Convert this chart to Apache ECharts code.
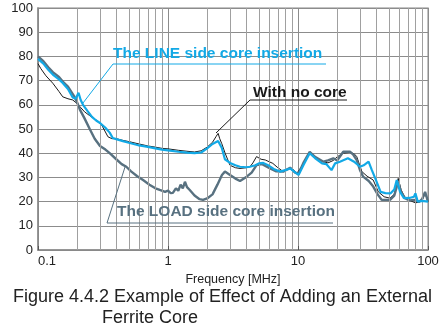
<!DOCTYPE html>
<html><head><meta charset="utf-8">
<script src="https://cdn.jsdelivr.net/npm/echarts@6/dist/echarts.min.js"></script>
<style>html,body{margin:0;padding:0;background:#fff;}#c{width:439px;height:329px;}</style>
</head><body><div id="c"></div>
<script>
var xTicks = [0.1, 1, 10, 100];
var minorX = [0.2,0.3,0.4,0.5,0.6,0.7,0.8,0.9,2,3,4,5,6,7,8,9,20,30,40,50,60,70,80,90];
var yTicks = [0,10,20,30,40,50,60,70,80,90,100];

var lineSide = [[0.1,79],[0.11,77],[0.12,74.5],[0.13,72.5],[0.145,70.5],[0.155,69],[0.17,66.5],[0.185,63],[0.195,62.5],[0.205,65],[0.213,62],[0.222,60],[0.24,57.5],[0.26,55],[0.28,53.5],[0.3,52.5],[0.33,50.5],[0.356,48.5],[0.376,46.3],[0.4,45.8],[0.45,45],[0.5,44.3],[0.6,43.2],[0.7,42.6],[0.8,42],[0.9,41.5],[1.0,41.2],[1.2,40.6],[1.4,40.2],[1.6,40],[1.8,40.3],[2.0,42],[2.2,43.8],[2.43,45],[2.6,42],[2.74,37.5],[3.0,36],[3.3,35],[3.58,34.4],[4.0,34.2],[4.27,34.4],[4.7,35],[5.0,35.8],[5.4,36],[6.0,34.8],[6.5,33.5],[7.25,32.4],[8.0,33],[8.7,33.7],[9.3,32.5],[10.1,31],[11,35],[12.3,40],[13.5,38],[15.3,35.8],[16.5,35.5],[18.1,33],[19.3,35.8],[21,36.5],[24.2,37.9],[27,36.5],[30,34.4],[32,35],[34.9,36.5],[37,33],[39.3,29.6],[43.2,24],[47,23.5],[51.6,23.4],[55,25],[57.5,28.9],[61,24],[65.3,21.4],[72,21.5],[78,22],[80,23.4],[83.4,20],[90,20.3],[100,20]];

var loadSide = [[0.1,80],[0.11,78],[0.12,75.5],[0.13,73.5],[0.145,71.5],[0.155,69.6],[0.17,67.5],[0.19,63.5],[0.2,61],[0.21,58],[0.228,54.4],[0.25,50],[0.273,46],[0.3,43],[0.33,41.5],[0.356,40],[0.4,37.5],[0.44,35.5],[0.478,34.4],[0.52,32.5],[0.58,30.5],[0.643,28.9],[0.72,27],[0.8,25.5],[0.864,24.8],[0.95,24],[1.0,24.5],[1.05,23.5],[1.09,23.6],[1.15,25.5],[1.2,24.5],[1.25,27],[1.3,25.5],[1.35,28.2],[1.4,26],[1.47,24.8],[1.6,22.5],[1.75,21],[1.86,20.7],[2.0,21.3],[2.2,23],[2.4,27],[2.6,31],[2.74,32.4],[3.0,31],[3.3,29.5],[3.58,28.5],[4.03,30.3],[4.4,32],[4.8,35.1],[5.3,35.5],[6.1,33.7],[6.8,32.5],[7.7,32.4],[8.7,34],[9.5,32],[10.1,31.5],[11,36],[12.3,40.6],[13.5,38.5],[15.7,36.5],[17,37],[18.7,37.9],[20,37],[22.3,40.6],[25.1,40.6],[26.5,39.5],[28.3,37.2],[30,33],[31.7,30.3],[35,28.5],[37.9,26.2],[41,23],[44,20.7],[51,20.7],[55,22.5],[59,28.2],[62,24],[66.5,21.4],[72,20.5],[78,20.7],[86,20],[90,21],[95,24],[100,20]];

var noCore = [[0.1,77],[0.105,75],[0.115,72],[0.13,68.9],[0.145,65.5],[0.155,63.3],[0.17,62.5],[0.185,62],[0.2,60.5],[0.228,57.1],[0.25,55.5],[0.281,53.7],[0.31,51.5],[0.345,46.8],[0.37,46],[0.4,46],[0.45,45.3],[0.5,44.8],[0.6,43.8],[0.7,43],[0.8,42.5],[0.9,42],[1.0,41.8],[1.2,41.2],[1.4,40.8],[1.6,40.5],[1.8,41],[2.0,42.5],[2.2,44.5],[2.35,47],[2.43,48.2],[2.5,46],[2.59,44],[2.75,40],[3.0,35],[3.3,34],[3.58,33.7],[4.0,34],[4.27,34.4],[4.5,36],[4.8,38.6],[5.2,37.5],[5.6,37.2],[6.4,35.8],[7.0,34],[7.7,32.4],[8.7,34],[9.3,33],[9.8,31.7],[11,35.5],[12.3,40.3],[13.5,38.5],[15.5,36.5],[17,36],[18.7,37],[20,38.5],[22.3,40],[25.1,40.3],[27,39.8],[28.3,38.6],[31,32.4],[34,30.5],[37.9,28.9],[41.5,24],[46,22],[51,21.4],[55,23],[59,29.6],[62,25],[66,22],[72,20.5],[80,19.5],[86,19.8],[90,20.5],[95,23.4],[100,20]];

var FONT = '"Liberation Sans", Arial, Helvetica, sans-serif';
var CYAN = '#12a9e6', SLATE = '#587180', BLACK = '#1a1a1a';

var chart = echarts.init(document.getElementById('c'), null, {renderer:'canvas'});
chart.setOption({
  animation: false,
  backgroundColor: '#fff',
  grid: {left: 38, right: 11, top: 8, bottom: 79, containLabel: false, outerBoundsMode: 'none',
    show: true, borderColor: '#b0b0b0', borderWidth: 1.5},
  xAxis: {
    type: 'log', logBase: 10, min: xTicks[0], max: xTicks[xTicks.length-1],
    name: 'Frequency [MHz]', nameLocation: 'middle', nameGap: 17,
    nameTextStyle: {fontFamily: FONT, fontSize: 12.5, color: '#222'},
    axisLine: {lineStyle: {color: '#888', width: 1.5}},
    axisTick: {show: true, inside: true, length: 4, lineStyle: {color: '#555'}},
    axisLabel: {fontFamily: FONT, fontSize: 13, color: '#222', margin: 5, alignMinLabel: 'left'},
    splitLine: {show: true, lineStyle: {color: '#8c8c8c', width: 1}}
  },
  yAxis: {
    type: 'value', min: yTicks[0], max: yTicks[yTicks.length-1], interval: 10,
    name: 'Level [dBµV]', nameLocation: 'middle', nameGap: 26,
    nameTextStyle: {fontFamily: FONT, fontSize: 12.5, color: '#222'},
    axisLine: {show: true, lineStyle: {color: '#888', width: 1.5}},
    axisTick: {show: false},
    axisLabel: {fontFamily: FONT, fontSize: 13, color: '#222', margin: 5},
    splitLine: {show: true, lineStyle: {color: '#8c8c8c', width: 1}}
  },
  series: [
    {type: 'line', name: 'grid', data: [], silent: true,
      markLine: {silent: true, symbol: ['none','none'], label: {show: false},
        lineStyle: {color: '#a0a0a0', width: 1, type: 'solid'},
        data: minorX.map(function(v){return {xAxis: v};})}},
    {type: 'line', name: 'With no core', data: noCore, showSymbol: false, smooth: false,
      lineStyle: {color: BLACK, width: 1}, z: 3},
    {type: 'line', name: 'The LOAD side core insertion', data: loadSide, showSymbol: false,
      lineStyle: {color: SLATE, width: 2.4}, z: 4},
    {type: 'line', name: 'The LINE side core insertion', data: lineSide, showSymbol: false,
      lineStyle: {color: CYAN, width: 2.2}, z: 5}
  ],
  graphic: [
    {type: 'text', left: 113, top: 46, z: 20, style: {text: 'The LINE side core insertion', fill: CYAN, font: 'bold 15.5px ' + FONT}},
    {type: 'polyline', z: 20, shape: {points: [[326,64],[113,64],[83,103]]}, style: {stroke: CYAN, lineWidth: 1, fill: null}},
    {type: 'text', left: 253, top: 85, z: 20, style: {text: 'With no core', fill: BLACK, font: 'bold 15.5px ' + FONT}},
    {type: 'polyline', z: 20, shape: {points: [[347,100],[250,100],[216,133]]}, style: {stroke: BLACK, lineWidth: 1, fill: null}},
    {type: 'text', left: 117, top: 204, z: 20, style: {text: 'The LOAD side core insertion', fill: SLATE, font: 'bold 15.5px ' + FONT}},
    {type: 'polyline', z: 20, shape: {points: [[333,223],[107,223],[125,167]]}, style: {stroke: SLATE, lineWidth: 1, fill: null}},
    {type: 'text', left: 13, top: 288, z: 20, style: {text: 'Figure 4.4.2 Example of Effect of Adding an External', fill: '#222', font: '18px ' + FONT}},
    {type: 'text', left: 102, top: 309, z: 20, style: {text: 'Ferrite Core', fill: '#222', font: '18px ' + FONT}}
  ]
});
</script></body></html>
